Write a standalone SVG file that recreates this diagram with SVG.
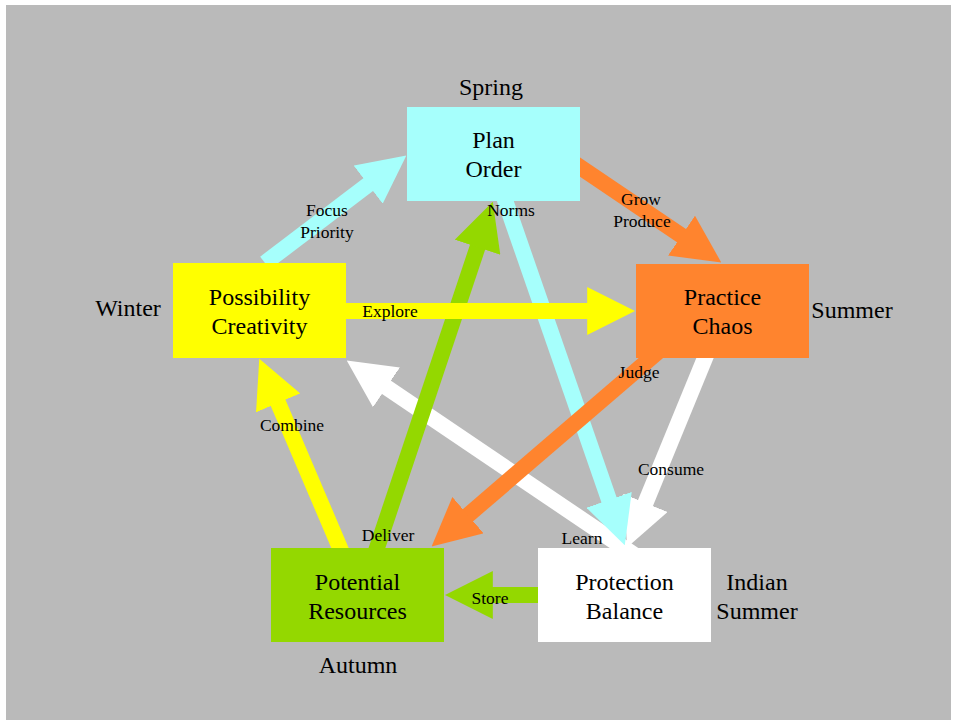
<svg xmlns="http://www.w3.org/2000/svg" width="953" height="720" viewBox="0 0 953 720">
<style>
.bg{fill:#bababa}
.edge{stroke-width:16;fill:none;stroke-linecap:butt}
.cy{stroke:#a6fffc}.or{stroke:#ff842e}.ye{stroke:#ffff00}.wh{stroke:#ffffff}.gr{stroke:#94d800}
.node{stroke:none}
text{font-family:'Liberation Serif','DejaVu Serif',serif;fill:#000;text-anchor:middle}
.nt{font-size:24px}
.el{font-size:17.5px}
</style>
<defs>
<marker id="m-cy" viewBox="0 0 3 3" markerWidth="3" markerHeight="3" refX="0.05" refY="1.5" orient="auto" markerUnits="strokeWidth"><path d="M0,0 L3,1.5 L0,3 z" fill="#a6fffc"/></marker>
<marker id="m-or" viewBox="0 0 3 3" markerWidth="3" markerHeight="3" refX="0.05" refY="1.5" orient="auto" markerUnits="strokeWidth"><path d="M0,0 L3,1.5 L0,3 z" fill="#ff842e"/></marker>
<marker id="m-ye" viewBox="0 0 3 3" markerWidth="3" markerHeight="3" refX="0.05" refY="1.5" orient="auto" markerUnits="strokeWidth"><path d="M0,0 L3,1.5 L0,3 z" fill="#ffff00"/></marker>
<marker id="m-wh" viewBox="0 0 3 3" markerWidth="3" markerHeight="3" refX="0.05" refY="1.5" orient="auto" markerUnits="strokeWidth"><path d="M0,0 L3,1.5 L0,3 z" fill="#ffffff"/></marker>
<marker id="m-gr" viewBox="0 0 3 3" markerWidth="3" markerHeight="3" refX="0.05" refY="1.5" orient="auto" markerUnits="strokeWidth"><path d="M0,0 L3,1.5 L0,3 z" fill="#94d800"/></marker>
</defs>
<rect x="0" y="0" width="953" height="720" fill="#ffffff"/>
<rect class="bg" x="6" y="5" width="945" height="715"/>
<g id="connectors">
<line class="edge wh" x1="636.4" y1="556.4" x2="385.8" y2="386.9" marker-end="url(#m-wh)"/>
<line class="edge wh" x1="710.7" y1="344.1" x2="645.2" y2="503.6" marker-end="url(#m-wh)"/>
<line class="edge cy" x1="265" y1="263" x2="368.8" y2="184.1" marker-end="url(#m-cy)"/>
<line class="edge cy" x1="498.4" y1="181.1" x2="609.3" y2="500.6" marker-end="url(#m-cy)"/>
<line class="edge gr" x1="372.2" y1="562.2" x2="477.8" y2="246.5" marker-end="url(#m-gr)"/>
<line class="edge gr" x1="550" y1="595" x2="492" y2="595" marker-end="url(#m-gr)"/>
<line class="edge or" x1="563.4" y1="155.8" x2="682.2" y2="236.1" marker-end="url(#m-or)"/>
<line class="edge or" x1="663.4" y1="347.2" x2="467.4" y2="515.7" marker-end="url(#m-or)"/>
<line class="edge ye" x1="330" y1="311" x2="588" y2="311" marker-end="url(#m-ye)"/>
<line class="edge ye" x1="345.9" y1="561.8" x2="277.8" y2="402.2" marker-end="url(#m-ye)"/>
</g>
<g id="plan">
<rect class="node" x="407" y="107" width="173" height="94" fill="#a6fffc"/>
<text class="nt" x="493.5" y="148">Plan</text>
<text class="nt" x="493.5" y="177">Order</text>
</g>
<g id="possibility">
<rect class="node" x="173" y="263" width="173" height="95" fill="#ffff00"/>
<text class="nt" x="259.5" y="305">Possibility</text>
<text class="nt" x="259.5" y="334">Creativity</text>
</g>
<g id="practice">
<rect class="node" x="636" y="264" width="173" height="94" fill="#ff842e"/>
<text class="nt" x="722.5" y="305">Practice</text>
<text class="nt" x="722.5" y="334">Chaos</text>
</g>
<g id="potential">
<rect class="node" x="271" y="548" width="173" height="94" fill="#94d800"/>
<text class="nt" x="357.5" y="590">Potential</text>
<text class="nt" x="357.5" y="619">Resources</text>
</g>
<g id="protection">
<rect class="node" x="538" y="548" width="173" height="94" fill="#ffffff"/>
<text class="nt" x="624.5" y="590">Protection</text>
<text class="nt" x="624.5" y="619">Balance</text>
</g>
<g id="seasons">
<text class="nt" x="491" y="95">Spring</text>
<text class="nt" x="128" y="316">Winter</text>
<text class="nt" x="852" y="318">Summer</text>
<text class="nt" x="358" y="673">Autumn</text>
<text class="nt" x="757" y="590">Indian</text>
<text class="nt" x="757" y="619">Summer</text>
</g>
<g id="edge-labels">
<text class="el" x="327" y="216">Focus</text>
<text class="el" x="327" y="238">Priority</text>
<text class="el" x="511" y="216">Norms</text>
<text class="el" x="641" y="205">Grow</text>
<text class="el" x="642" y="227">Produce</text>
<text class="el" x="390" y="317">Explore</text>
<text class="el" x="639" y="378">Judge</text>
<text class="el" x="292" y="431">Combine</text>
<text class="el" x="671" y="475">Consume</text>
<text class="el" x="388" y="541">Deliver</text>
<text class="el" x="582" y="544">Learn</text>
<text class="el" x="490" y="604">Store</text>
</g>
</svg>
